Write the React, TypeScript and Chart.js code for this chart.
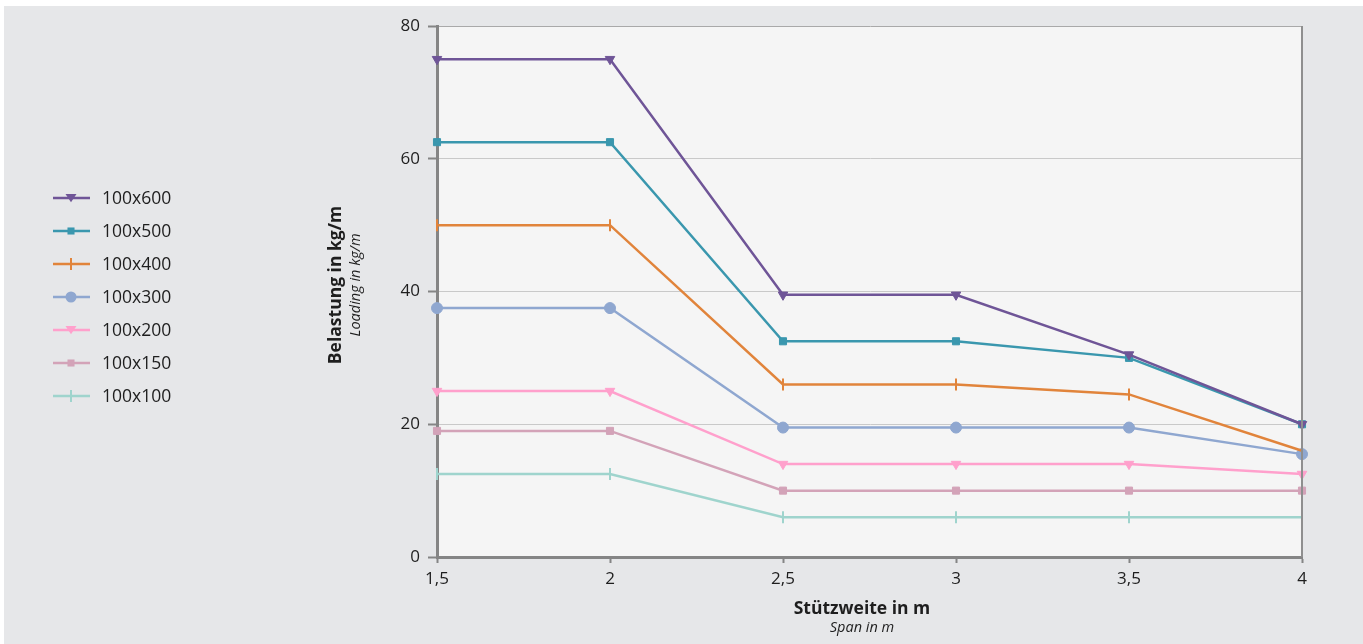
import React, { useEffect, useRef } from 'react';
import { Chart, registerables } from 'chart.js';

Chart.register(...registerables);

const spans = ['1,5', '2', '2,5', '3', '3,5', '4'];
const seriesNames = ['100x600', '100x500', '100x400', '100x300', '100x200', '100x150', '100x100'];
const s600 = [75, 75, 39.5, 39.5, 30.5, 20];
const s500 = [62.5, 62.5, 32.5, 32.5, 30, 20];
const s400 = [50, 50, 26, 26, 24.5, 16];
const s300 = [37.5, 37.5, 19.5, 19.5, 19.5, 15.5];
const s200 = [25, 25, 14, 14, 14, 12.5];
const s150 = [19, 19, 10, 10, 10, 10];
const s100 = [12.5, 12.5, 6, 6, 6, 6];
const seriesValues = [s600, s500, s400, s300, s200, s150, s100];
const seriesColors = ['#6f5597', '#3a97ae', '#e1843b', '#8fa7d0', '#ffa0cc', '#d3a3b8', '#9fd4cd'];
const seriesStyles = ['triangle', 'rect', 'line', 'circle', 'triangle', 'rect', 'line'];
const seriesRotation = [180, 0, 90, 0, 180, 0, 90];
const seriesRadius = [5.5, 5, 6, 5.5, 5.5, 5, 6];

const yMin = 0;
const yMax = 80;
const yStep = 20;

const yTitle = 'Belastung in kg/m';
const ySubTitle = 'Loading in kg/m';
const xTitle = 'Stützweite in m';
const xSubTitle = 'Span in m';

const FONT = '"Open Sans", "Noto Sans", sans-serif';
const PAGE_BG = '#e6e7e9';
const PLOT_BG = '#f5f5f5';
const AXIS = '#858585';
const TEXT = '#1e1e1e';

function drawMarker(ctx: CanvasRenderingContext2D, style: string, x: number, y: number, r: number, color: string) {
  ctx.save();
  ctx.fillStyle = color;
  ctx.strokeStyle = color;
  ctx.lineWidth = 2;
  ctx.beginPath();
  if (style === 'triangle') {
    const h = r * 1.5;
    ctx.moveTo(x - r, y - h / 2);
    ctx.lineTo(x + r, y - h / 2);
    ctx.lineTo(x, y + h / 2);
    ctx.closePath();
    ctx.fill();
  } else if (style === 'rect') {
    const s = r * 1.414;
    ctx.rect(x - s / 2, y - s / 2, s, s);
    ctx.fill();
  } else if (style === 'circle') {
    ctx.arc(x, y, r, 0, Math.PI * 2);
    ctx.fill();
  } else {
    ctx.moveTo(x, y - r);
    ctx.lineTo(x, y + r);
    ctx.stroke();
  }
  ctx.restore();
}

const decorPlugin = {
  id: 'decor',
  beforeDraw(chart: any) {
    const { ctx, chartArea, width, height } = chart;
    ctx.save();
    ctx.fillStyle = PAGE_BG;
    ctx.fillRect(0, 0, width, height);
    ctx.fillStyle = PLOT_BG;
    ctx.fillRect(chartArea.left, chartArea.top, chartArea.right - chartArea.left, chartArea.bottom - chartArea.top);
    ctx.restore();
  },
  afterDraw(chart: any) {
    const { ctx, chartArea } = chart;
    ctx.save();
    // right frame
    ctx.strokeStyle = '#8f8f8f';
    ctx.lineWidth = 2;
    ctx.beginPath();
    ctx.moveTo(chartArea.right, chartArea.top);
    ctx.lineTo(chartArea.right, chartArea.bottom);
    ctx.stroke();

    // axis titles
    ctx.fillStyle = TEXT;
    ctx.textAlign = 'center';
    ctx.textBaseline = 'middle';
    const cx = (chartArea.left + chartArea.right) / 2 - 7.5;
    ctx.font = `bold 17.5px ${FONT}`;
    ctx.fillText(xTitle, cx, 603);
    ctx.font = `italic 14.5px ${FONT}`;
    ctx.fillText(xSubTitle, cx, 622);

    ctx.save();
    ctx.translate(332, 279);
    ctx.rotate(-Math.PI / 2);
    ctx.font = `bold 17.5px ${FONT}`;
    ctx.fillText(yTitle, 0, 0);
    ctx.restore();
    ctx.save();
    ctx.translate(352, 279);
    ctx.rotate(-Math.PI / 2);
    ctx.font = `italic 14.5px ${FONT}`;
    ctx.fillText(ySubTitle, 0, 0);
    ctx.restore();

    // legend
    ctx.textAlign = 'left';
    ctx.font = `17.5px ${FONT}`;
    seriesNames.forEach((name, i) => {
      const y = 192 + i * 33;
      ctx.strokeStyle = seriesColors[i];
      ctx.lineWidth = 2.5;
      ctx.beginPath();
      ctx.moveTo(49, y);
      ctx.lineTo(86, y);
      ctx.stroke();
      drawMarker(ctx, seriesStyles[i], 67, y, seriesRadius[i], seriesColors[i]);
      ctx.fillStyle = TEXT;
      ctx.fillText(name, 98, y + 1);
    });
    ctx.restore();
  },
};

export default function App() {
  const ref = useRef<HTMLCanvasElement>(null);

  useEffect(() => {
    document.body.style.margin = '0';
    document.body.style.overflow = 'hidden';
    const canvas = ref.current;
    if (!canvas) return;
    const chart = new Chart(canvas, {
      type: 'line',
      data: {
        labels: spans,
        datasets: seriesNames.map((name, i) => ({
          label: name,
          data: seriesValues[i],
          borderColor: seriesColors[i],
          backgroundColor: seriesColors[i],
          pointBackgroundColor: seriesColors[i],
          pointBorderColor: seriesColors[i],
          borderWidth: 2.5,
          pointStyle: seriesStyles[i] as any,
          pointRotation: seriesRotation[i],
          pointRadius: seriesRadius[i],
          pointBorderWidth: seriesStyles[i] === 'line' ? 2 : 1,
          tension: 0,
          fill: false,
        })),
      },
      options: {
        responsive: false,
        animation: false,
        devicePixelRatio: 1,
        layout: { padding: { left: 393, right: 61, top: 20, bottom: 0 } },
        plugins: {
          legend: { display: false },
          tooltip: { enabled: false },
        },
        scales: {
          x: {
            type: 'category',
            offset: false,
            grid: {
              drawOnChartArea: false,
              drawTicks: true,
              tickLength: 6,
              tickWidth: 2,
              tickColor: AXIS,
            },
            border: { display: true, color: AXIS, width: 3 },
            ticks: {
              color: TEXT,
              font: { family: FONT, size: 17 },
              padding: 6,
              maxRotation: 0,
              autoSkip: false,
            },
            afterFit(scale: any) {
              scale.height = 87;
            },
          },
          y: {
            min: yMin,
            max: yMax,
            grid: {
              color: (c: any) => (c.tick && c.tick.value === yMax ? '#a9a9a9' : '#c9c9c9'),
              lineWidth: 1,
              drawTicks: true,
              tickLength: 9,
              tickWidth: 2,
              tickColor: AXIS,
            },
            border: { display: true, color: AXIS, width: 3 },
            ticks: {
              stepSize: yStep,
              color: TEXT,
              font: { family: FONT, size: 17 },
              padding: 8,
            },
            afterFit(scale: any) {
              scale.width = 40;
            },
          },
        },
      },
      plugins: [decorPlugin],
    });
    return () => chart.destroy();
  }, []);

  return (
    <div style={{ padding: '6px 0 0 4px', background: '#ffffff' }}>
      <canvas ref={ref} width={1359} height={638} style={{ display: 'block' }} />
    </div>
  );
}
